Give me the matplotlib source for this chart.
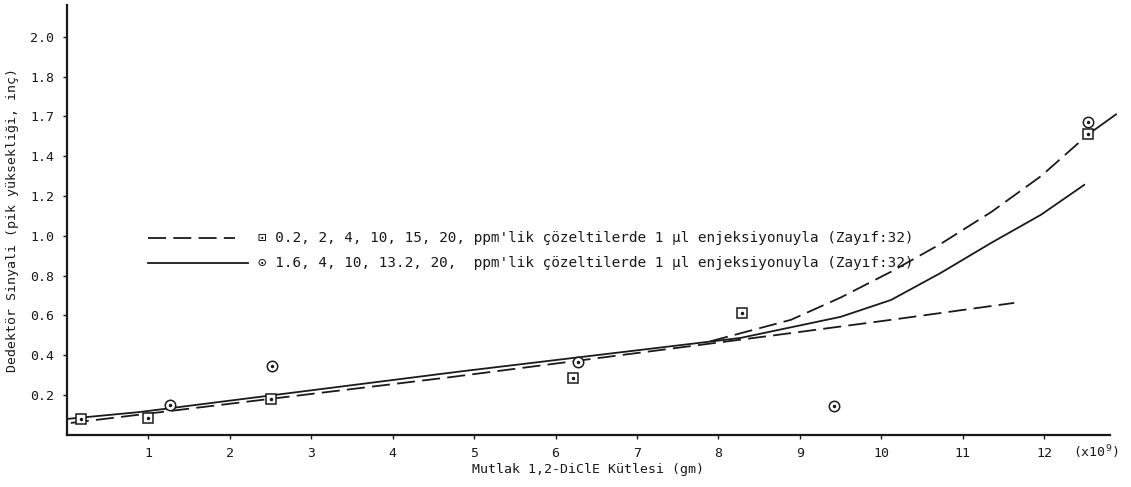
import numpy as np
import matplotlib
matplotlib.use("Agg")
import matplotlib.pyplot as plt

# measured points (x in 10^-9 gm, y in inches)
sq_x = [0.17, 1.0, 2.51, 6.22, 8.29, 12.54]
sq_y = [0.08, 0.085, 0.18, 0.285, 0.61, 1.51]
ci_x = [1.27, 2.52, 6.28, 9.42, 12.54]
ci_y = [0.15, 0.345, 0.365, 0.145, 1.57]

# fitted curves
dash_lo_x = [0.05, 4.71, 8.68, 10.12, 11.63]
dash_lo_y = [0.06, 0.29, 0.50, 0.578, 0.663]
dash_up_x = [7.9, 8.89, 9.5, 10.12, 10.73, 11.35, 11.96, 12.54]
dash_up_y = [0.47, 0.578, 0.69, 0.82, 0.96, 1.12, 1.30, 1.51]
solid_x = [0.0, 0.9, 4.8, 8.27, 9.5, 10.12, 10.73, 11.35, 11.96, 12.49]
solid_y = [0.08, 0.115, 0.317, 0.487, 0.593, 0.678, 0.814, 0.965, 1.106, 1.256]
solid_tail_x = [12.54, 12.88]
solid_tail_y = [1.51, 1.61]

yticks = [0.2, 0.4, 0.6, 0.8, 1.0, 1.2, 1.4, 1.6, 1.8, 2.0]
ylabels = ['0.2', '0.4', '0.6', '0.8', '1.0', '1.2', '1.4', '1.7', '1.8', '2.0']
xticks = list(range(1, 13))

lbl_sq = "\u22a1 0.2, 2, 4, 10, 15, 20, ppm'lik çözeltilerde 1 µl enjeksiyonuyla (Zayıf:32)"
lbl_ci = "\u2299 1.6, 4, 10, 13.2, 20,  ppm'lik çözeltilerde 1 µl enjeksiyonuyla (Zayıf:32)"

mono = ['DejaVu Sans Mono', 'DejaVu Sans']
ink = '#1a1a1a'

fig = plt.figure(figsize=(11.31, 4.87), dpi=100)
ax = fig.add_axes([0.059, 0.107, 0.922, 0.883])

dash = (10, 4)
ax.plot(dash_lo_x, dash_lo_y, color=ink, lw=1.3, dashes=dash)
ax.plot(dash_up_x, dash_up_y, color=ink, lw=1.3, dashes=dash)
ax.plot(solid_x, solid_y, color=ink, lw=1.3)
ax.plot(solid_tail_x, solid_tail_y, color=ink, lw=1.3, clip_on=False)

ax.plot(sq_x, sq_y, 's', ms=6.5, mfc='white', mec=ink, mew=1.1, zorder=5)
ax.plot(sq_x, sq_y, '.', ms=3, color=ink, zorder=6)
ax.plot(ci_x, ci_y, 'o', ms=7.5, mfc='white', mec=ink, mew=1.1, zorder=5)
ax.plot(ci_x, ci_y, '.', ms=3, color=ink, zorder=6)

ax.set_xlim(0, 12.8)
ax.set_ylim(0, 2.16)
ax.set_xticks(xticks)
ax.set_xticklabels([str(t) for t in xticks], family=mono, fontsize=9.5, color=ink)
ax.set_yticks(yticks)
ax.set_yticklabels(ylabels, family=mono, fontsize=9.5, color=ink)
ax.tick_params(length=3, width=1, color=ink, pad=6)
for s in ['top', 'right']:
    ax.spines[s].set_visible(False)
for s in ['left', 'bottom']:
    ax.spines[s].set_linewidth(1.6)
    ax.spines[s].set_color(ink)

ax.set_xlabel("Mutlak 1,2-DiClE Kütlesi (gm)", family=mono, fontsize=9.5, color=ink, labelpad=2)
ax.set_ylabel("Dedektör Sinyali (pik yüksekliği, inç)", family=mono, fontsize=9.5, color=ink, labelpad=8)
ax.text(12.35, -0.085, "(x10$^{9}$)", family=mono, fontsize=9.5, color=ink,
        ha='left', va='center', clip_on=False)

# legend drawn as text lines
ax.plot([1.0, 2.07], [0.99, 0.99], color=ink, lw=1.3, dashes=dash)
ax.plot([1.0, 2.22], [0.865, 0.865], color=ink, lw=1.3)
ax.text(2.35, 0.99, lbl_sq, family=mono, fontsize=10.4, color=ink, va='center')
ax.text(2.35, 0.865, lbl_ci, family=mono, fontsize=10.4, color=ink, va='center')

fig.savefig("out.png", dpi=100)
